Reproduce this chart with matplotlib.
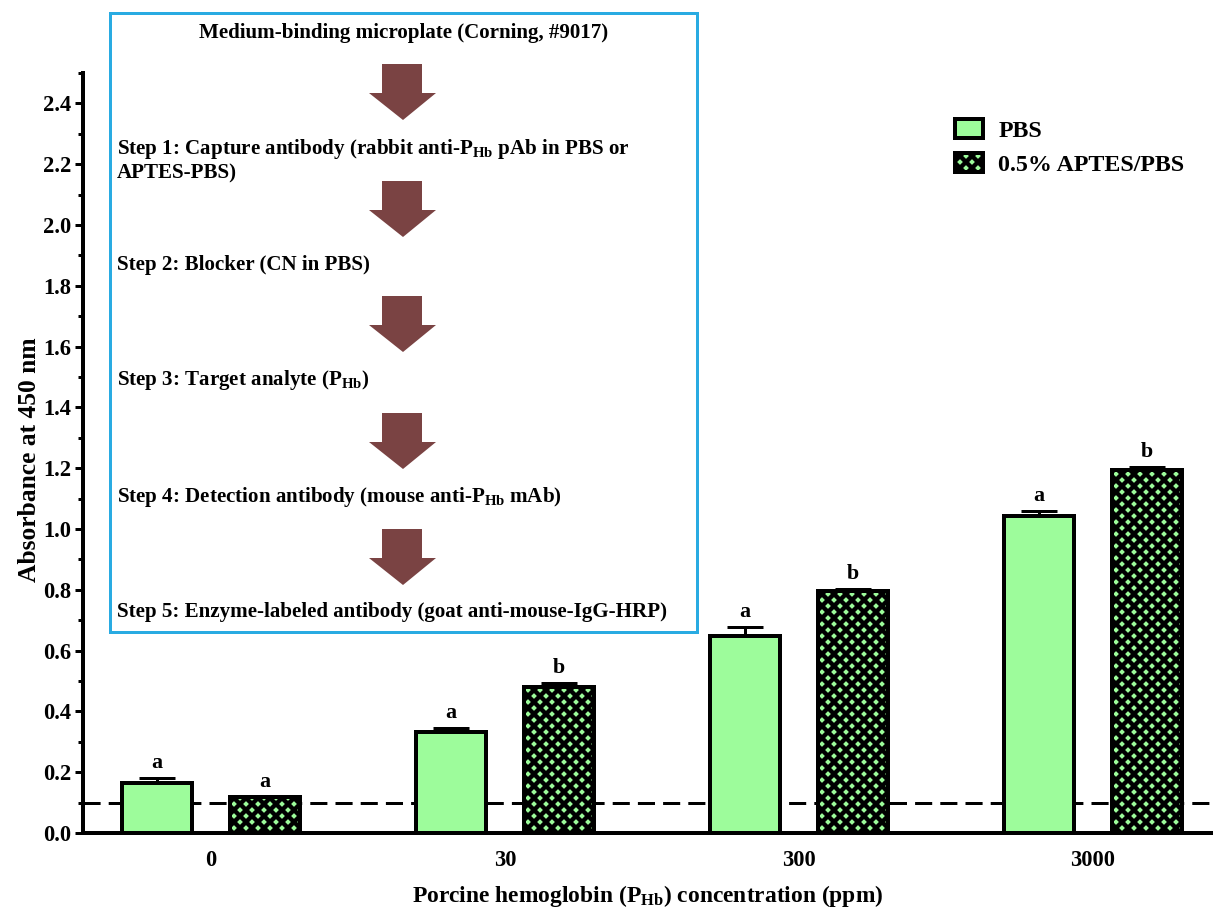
import matplotlib
matplotlib.use("Agg")
import matplotlib.pyplot as plt
import numpy as np
from matplotlib.patches import Rectangle, Polygon
from matplotlib.ticker import MultipleLocator, FormatStrFormatter

# ---- data ----
concentrations = ["0", "30", "300", "3000"]
pbs_mean = [0.165, 0.331, 0.649, 1.044]
pbs_err = [0.016, 0.016, 0.029, 0.014]
aptes_mean = [0.117, 0.480, 0.796, 1.195]
aptes_err = [0.003, 0.014, 0.005, 0.009]
pbs_letters = ["a", "a", "a", "a"]
aptes_letters = ["a", "b", "b", "b"]
cutoff = 0.1
series_names = ["PBS", "0.5% APTES/PBS"]

steps = [
    r"Step 1: Capture antibody (rabbit anti-P$_\mathrm{Hb}$ pAb in PBS or" + "\nAPTES-PBS)",
    "Step 2: Blocker (CN in PBS)",
    r"Step 3: Target analyte (P$_\mathrm{Hb}$)",
    r"Step 4: Detection antibody (mouse anti-P$_\mathrm{Hb}$ mAb)",
    "Step 5: Enzyme-labeled antibody (goat anti-mouse-IgG-HRP)",
]
plate_title = "Medium-binding microplate (Corning, #9017)"

# ---- style ----
plt.rcParams.update({
    "font.family": ["Liberation Serif", "DejaVu Serif"],
    "font.weight": "bold",
    "mathtext.fontset": "custom",
    "mathtext.rm": "Liberation Serif:bold",
    "mathtext.it": "Liberation Serif:bold:italic",
    "mathtext.bf": "Liberation Serif:bold",
    "hatch.linewidth": 4.4,
    "hatch.color": "black",
})

GREEN = "#9dfc9b"
CYAN = "#29abe2"
BROWN = "#7a4343"

W, H = 1213, 909
DPI = 72
fig = plt.figure(figsize=(W / DPI, H / DPI), dpi=DPI)


def fx(px):
    return px / W


def fy(py):
    return 1 - py / H


ax = fig.add_axes([fx(83), fy(833), 1 - fx(83), fy(73) - fy(833)])

x = np.arange(len(concentrations))
off = 0.184
bw = 0.238

ax.axhline(cutoff, color="black", lw=3, ls=(0, (5.7, 2.7)), zorder=1)

ax.errorbar(x - off, pbs_mean, yerr=[np.zeros(4), pbs_err], fmt="none",
            ecolor="black", elinewidth=3, capsize=18, capthick=3, zorder=2)
ax.errorbar(x + off, aptes_mean, yerr=[np.zeros(4), aptes_err], fmt="none",
            ecolor="black", elinewidth=3, capsize=18, capthick=3, zorder=2)

ax.bar(x - off, pbs_mean, width=bw, color=GREEN, edgecolor="black",
       linewidth=4, zorder=3, label=series_names[0])
ax.bar(x + off, aptes_mean, width=bw, color=GREEN, edgecolor="black",
       linewidth=4, hatch="xx", zorder=3, label=series_names[1])

for xi, m, e, t in zip(x - off, pbs_mean, pbs_err, pbs_letters):
    ax.annotate(t, (xi, m + e), xytext=(0, 5), textcoords="offset points",
                ha="center", va="bottom", fontsize=22, fontweight="bold")
for xi, m, e, t in zip(x + off, aptes_mean, aptes_err, aptes_letters):
    ax.annotate(t, (xi, m + e), xytext=(0, 5), textcoords="offset points",
                ha="center", va="bottom", fontsize=22, fontweight="bold")

ax.set_xlim(-0.435, 3.408)
ax.set_ylim(0, 2.5)
ax.set_xticks(x)
ax.set_xticklabels(concentrations)
ax.yaxis.set_minor_locator(MultipleLocator(0.1))
ax.set_yticks(np.arange(0, 2.41, 0.2))
ax.yaxis.set_major_formatter(FormatStrFormatter("%.1f"))

for s in ["top", "right"]:
    ax.spines[s].set_visible(False)
for s in ["left", "bottom"]:
    ax.spines[s].set_linewidth(4)

ax.tick_params(axis="x", length=0, pad=17, labelsize=22.5)
ax.tick_params(axis="y", which="major", length=8, width=3, pad=4, labelsize=22.5)
ax.tick_params(axis="y", which="minor", length=5, width=3)

ax.set_ylabel("Absorbance at 450 nm", fontsize=25.5, fontweight="bold")
ax.yaxis.set_label_coords(-0.037, 0.491)
ax.set_xlabel(r"Porcine hemoglobin (P$_\mathrm{Hb}$) concentration (ppm)",
              fontsize=23.5, fontweight="bold", labelpad=12)

leg = ax.legend(loc="upper left", bbox_to_anchor=(fx(955), fy(119)),
                bbox_transform=fig.transFigure, frameon=False, fontsize=24,
                handlelength=1.15, handleheight=0.85, handletextpad=0.65,
                labelspacing=0.45, borderpad=0, borderaxespad=0)

# ---- protocol box ----
fig.patches.append(Rectangle((fx(110), fy(632)), fx(697) - fx(110), fy(13) - fy(632),
                             transform=fig.transFigure, fill=False,
                             edgecolor=CYAN, linewidth=3, zorder=10))
fig.text(fx(404), fy(33), plate_title, ha="center", va="center",
         fontsize=21, fontweight="bold")

arrow_tops = [64, 181, 296, 413, 529]
for top in arrow_tops:
    pts = [(382, top), (422, top), (422, top + 29), (436, top + 29),
           (403, top + 56), (369, top + 29), (382, top + 29)]
    fig.patches.append(Polygon([(fx(a), fy(b)) for a, b in pts], closed=True,
                               transform=fig.transFigure, facecolor=BROWN,
                               edgecolor="none", zorder=10))

step_y = [160, 265, 380, 497, 612]
for yy, s in zip(step_y, steps):
    fig.text(fx(117), fy(yy), s, ha="left", va="center", fontsize=21,
             fontweight="bold", linespacing=1.15)

fig.savefig("out.png", dpi=DPI)
